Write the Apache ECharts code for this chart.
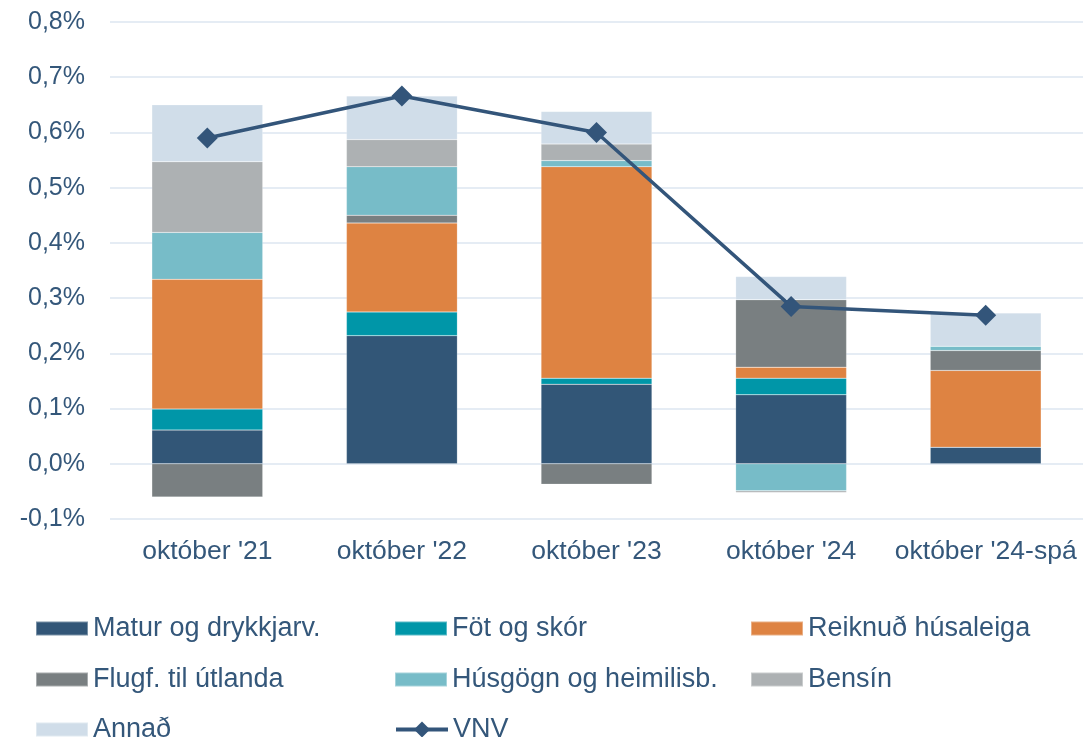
<!DOCTYPE html>
<html>
<head>
<meta charset="utf-8">
<script src="https://cdn.jsdelivr.net/npm/echarts@6/dist/echarts.min.js"></script>
<style>
  html, body { margin: 0; padding: 0; background: #fff; }
  #chart { width: 1083px; height: 737px; }
</style>
</head>
<body>
<div id="chart"></div>
<script>
// flokkar (x-ás)
var categories = ["okt\u00f3ber '21", "okt\u00f3ber '22", "okt\u00f3ber '23", "okt\u00f3ber '24", "okt\u00f3ber '24-sp\u00e1"];

// framlag til verðbólgu, %
var matur    = [0.061, 0.232, 0.144, 0.125, 0.030];
var fot      = [0.038, 0.043, 0.011, 0.030, 0.000];
var husaleiga= [0.235, 0.161, 0.383, 0.020, 0.139];
var flugf    = [-0.060, 0.014, -0.037, 0.122, 0.036];
var husgogn  = [0.085, 0.088, 0.011, -0.049, 0.008];
var bensin   = [0.128, 0.049, 0.030, -0.003, 0.000];
var annad    = [0.103, 0.079, 0.059, 0.042, 0.060];
var vnv      = [0.590, 0.666, 0.600, 0.285, 0.269];

var textColor = '#34577a';
var font = 'Liberation Sans, Arial';

function bar(name, data, color) {
  return {
    name: name,
    type: 'bar',
    stack: 'total',
    barWidth: '57%',
    data: data,
    itemStyle: { color: color, borderColor: 'rgba(255,255,255,0.35)', borderWidth: 0.5 }
  };
}

// ein skýring fyrir hvern lið, raðað í 3 dálka
function leg(name, left, top, icon) {
  var l = {
    left: left,
    top: top,
    padding: 0,
    itemWidth: 52,
    itemHeight: 14,
    data: [name],
    textStyle: { color: textColor, fontSize: 27, fontFamily: font }
  };
  if (icon) {
    l.icon = icon;
  } else {
    l.itemHeight = 20;
    l.lineStyle = { width: 4 };
  }
  return l;
}

var myChart = echarts.init(document.getElementById('chart'));
myChart.setOption({
  animation: false,
  grid: { left: 110, right: 0, top: 22, bottom: 218 },
  legend: [
    leg('Matur og drykkjarv.', 35, 615, 'rect'),
    leg('F\u00f6t og sk\u00f3r', 394, 615, 'rect'),
    leg('Reiknu\u00f0 h\u00fasaleiga', 750, 615, 'rect'),
    leg('Flugf. til \u00fatlanda', 35, 666, 'rect'),
    leg('H\u00fasg\u00f6gn og heimilisb.', 394, 666, 'rect'),
    leg('Bens\u00edn', 750, 666, 'rect'),
    leg('Anna\u00f0', 35, 716, 'rect'),
    leg('VNV', 394, 716)
  ],
  xAxis: {
    type: 'category',
    data: categories,
    axisLine: { show: false },
    axisTick: { show: false },
    axisLabel: { color: textColor, fontSize: 26.5, fontFamily: font, margin: 19, interval: 0 }
  },
  yAxis: {
    type: 'value',
    min: -0.1,
    max: 0.8,
    interval: 0.1,
    axisLine: { show: false },
    axisTick: { show: false },
    splitLine: { lineStyle: { color: '#dde6f0', width: 1.5 } },
    axisLabel: {
      color: textColor, fontSize: 25, fontFamily: font, margin: 25,
      formatter: function (v) { return v.toFixed(1).replace('.', ',') + '%'; }
    }
  },
  series: [
    bar('Matur og drykkjarv.', matur, '#325677'),
    bar('F\u00f6t og sk\u00f3r', fot, '#0096a8'),
    bar('Reiknu\u00f0 h\u00fasaleiga', husaleiga, '#de8342'),
    bar('Flugf. til \u00fatlanda', flugf, '#797f81'),
    bar('H\u00fasg\u00f6gn og heimilisb.', husgogn, '#77bcc8'),
    bar('Bens\u00edn', bensin, '#adb1b3'),
    bar('Anna\u00f0', annad, '#d0dde9'),
    {
      name: 'VNV',
      type: 'line',
      data: vnv,
      symbol: 'diamond',
      symbolSize: 21,
      z: 5,
      itemStyle: { color: '#33557a' },
      lineStyle: { color: '#33557a', width: 3.5 }
    }
  ]
});
</script>
</body>
</html>
